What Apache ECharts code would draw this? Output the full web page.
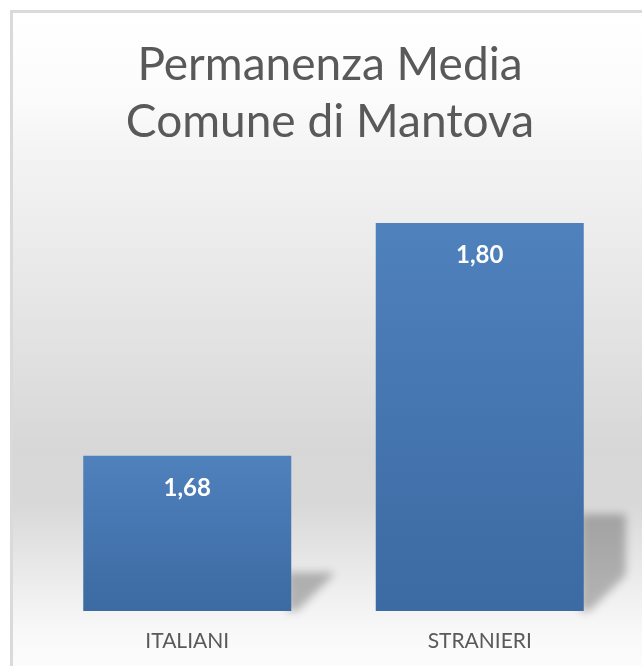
<!DOCTYPE html>
<html>
<head>
<meta charset="utf-8">
<script src="https://cdn.jsdelivr.net/npm/echarts@6/dist/echarts.min.js"></script>
<style>
  html, body { margin: 0; padding: 0; background: #fff; overflow: hidden; width: 642px; height: 666px; }
  #frame {
    position: absolute; left: 10px; top: 10px;
    width: 640px; height: 660px;
    border-left: 3px solid #dadada; border-top: 3px solid #dadada;
  }
  #chart { width: 634px; height: 653px; }
</style>
</head>
<body>
<div id="frame"><div id="chart"></div></div>
<script>
// dati
var categorie = ['ITALIANI', 'STRANIERI']
var valori = [1.68, 1.80]
var titoloRighe = ['Permanenza Media', 'Comune di Mantova']
var yMin = 1.6
var yMax = 1.85

var chart = echarts.init(document.getElementById('chart'))

// ombra in prospettiva dietro le barre (solo l'ombra sfocata, la forma sta fuori dal canvas)
var SPOSTA = 2000
function disegnaOmbra (params, api) {
  var top = api.coord([api.value(0), api.value(1)])
  var base = api.coord([api.value(0), yMin])
  var h = base[1] - top[1]
  var xr = top[0] + 100 - SPOSTA
  var yt = base[1] - h * 0.25
  var w = 46
  return {
    type: 'polygon',
    shape: {
      points: [
        [xr, yt], [xr + w, yt], [xr + w, base[1] - 36], [xr + 10, base[1]], [xr, base[1]]
      ]
    },
    style: {
      fill: '#000',
      shadowBlur: 9,
      shadowOffsetX: SPOSTA,
      shadowColor: 'rgba(0,0,0,0.26)'
    }
  }
}

var option = {
  backgroundColor: new echarts.graphic.LinearGradient(0, 0, 0, 1, [
    { offset: 0, color: '#ffffff' },
    { offset: 0.13, color: '#fbfbfb' },
    { offset: 0.21, color: '#f4f4f4' },
    { offset: 0.44, color: '#e6e6e6' },
    { offset: 0.67, color: '#d7d7d7' },
    { offset: 0.75, color: '#d8d8d8' },
    { offset: 0.87, color: '#ececec' },
    { offset: 0.945, color: '#f8f8f8' },
    { offset: 1, color: '#fcfcfc' }
  ]),
  animation: false,
  title: {
    text: titoloRighe.join('\n'),
    left: 'center',
    top: 19,
    textStyle: {
      fontFamily: 'Lato',
      fontWeight: 'normal',
      fontSize: 46,
      lineHeight: 57,
      color: '#595959'
    }
  },
  grid: {
    left: 28,
    right: 21,
    top: 113,
    bottom: 55
  },
  xAxis: {
    type: 'category',
    data: categorie,
    axisLine: { show: false },
    axisTick: { show: false },
    axisLabel: {
      margin: 20,
      fontFamily: 'Lato',
      fontSize: 21,
      color: '#595959'
    }
  },
  yAxis: {
    type: 'value',
    min: yMin,
    max: yMax,
    show: false,
    splitLine: { show: false }
  },
  series: [
    {
      type: 'custom',
      renderItem: disegnaOmbra,
      clip: false,
      data: categorie.map(function (c, i) { return [i, valori[i]] }),
      z: 1,
      silent: true
    },
    {
      type: 'bar',
      data: valori,
      barWidth: 208,
      z: 2,
      itemStyle: {
        color: new echarts.graphic.LinearGradient(0, 0, 0, 1, [
          { offset: 0, color: '#4f81bd' },
          { offset: 1, color: '#3c6aa2' }
        ])
      },
      label: {
        show: true,
        position: 'insideTop',
        distance: 20,
        fontFamily: 'Lato',
        fontWeight: 'bold',
        fontSize: 24,
        color: '#ffffff',
        formatter: function (p) { return p.value.toFixed(2).replace('.', ',') }
      }
    }
  ]
}

chart.setOption(option)
</script>
</body>
</html>
